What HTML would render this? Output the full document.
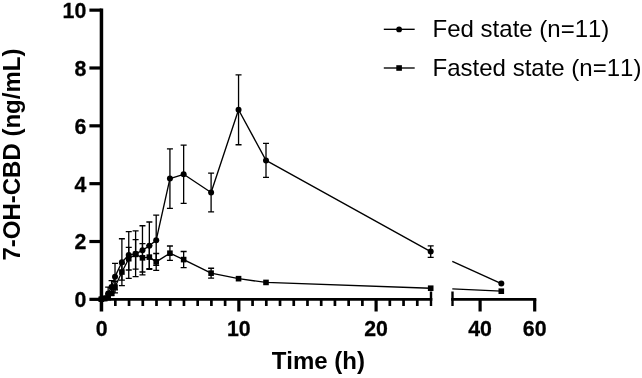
<!DOCTYPE html>
<html><head><meta charset="utf-8"><title>7-OH-CBD</title>
<style>
html,body{margin:0;padding:0;background:#fff;}
svg{display:block;filter:blur(0.3px);}
text{font-family:"Liberation Sans",sans-serif;fill:#000;font-kerning:none;}
.tk{font-size:22.8px;font-weight:bold;stroke:#000;stroke-width:0.3px;}
.ti{font-size:24px;font-weight:bold;}
.lg{font-size:24px;}
</style></head>
<body>
<svg width="642" height="378" viewBox="0 0 642 378">
<rect width="642" height="378" fill="#fff"/>
<g id="data">
<path d="M108.16 287.05V299.78M105.16 287.05H111.16M105.16 299.78H111.16" stroke="#000" stroke-width="1.3" fill="none"/>
<path d="M111.59 280.69V293.42M108.59 280.69H114.59M108.59 293.42H114.59" stroke="#000" stroke-width="1.3" fill="none"/>
<path d="M115.02 263.34V289.95M112.02 263.34H118.02M112.02 289.95H118.02" stroke="#000" stroke-width="1.3" fill="none"/>
<path d="M121.89 238.76V285.61M118.89 238.76H124.89M118.89 285.61H124.89" stroke="#000" stroke-width="1.3" fill="none"/>
<path d="M128.75 231.53V278.38M125.75 231.53H131.75M125.75 278.38H131.75" stroke="#000" stroke-width="1.3" fill="none"/>
<path d="M135.61 230.95V276.64M132.61 230.95H138.61M132.61 276.64H138.61" stroke="#000" stroke-width="1.3" fill="none"/>
<path d="M142.47 225.74V274.91M139.47 225.74H145.47M139.47 274.91H145.47" stroke="#000" stroke-width="1.3" fill="none"/>
<path d="M149.34 221.98V269.41M146.34 221.98H152.34M146.34 269.41H152.34" stroke="#000" stroke-width="1.3" fill="none"/>
<path d="M156.2 215.04V265.36M153.2 215.04H159.2M153.2 265.36H159.2" stroke="#000" stroke-width="1.3" fill="none"/>
<path d="M169.93 148.82V208.39M166.93 148.82H172.93M166.93 208.39H172.93" stroke="#000" stroke-width="1.3" fill="none"/>
<path d="M183.65 145.06V203.47M180.65 145.06H186.65M180.65 203.47H186.65" stroke="#000" stroke-width="1.3" fill="none"/>
<path d="M211.1 173.11V211.86M208.1 173.11H214.1M208.1 211.86H214.1" stroke="#000" stroke-width="1.3" fill="none"/>
<path d="M238.55 74.78V144.77M235.55 74.78H241.55M235.55 144.77H241.55" stroke="#000" stroke-width="1.3" fill="none"/>
<path d="M266 143.32V177.45M263 143.32H269M263 177.45H269" stroke="#000" stroke-width="1.3" fill="none"/>
<path d="M430.7 245.81V257.38M427.7 245.81H433.7M427.7 257.38H433.7" stroke="#000" stroke-width="1.3" fill="none"/>
<polyline points="101.3,299.2 104.73,298.33 108.16,293.42 111.59,287.05 115.02,276.64 121.89,262.18 128.75,254.95 135.61,253.8 142.47,250.33 149.34,245.7 156.2,240.2 169.93,178.6 183.65,174.27 211.1,192.49 238.55,109.77 266,160.38 430.7,251.6" fill="none" stroke="#000" stroke-width="1.35" stroke-linejoin="round"/>
<circle cx="101.3" cy="299.2" r="3.0"/>
<circle cx="104.73" cy="298.33" r="3.0"/>
<circle cx="108.16" cy="293.42" r="3.0"/>
<circle cx="111.59" cy="287.05" r="3.0"/>
<circle cx="115.02" cy="276.64" r="3.0"/>
<circle cx="121.89" cy="262.18" r="3.0"/>
<circle cx="128.75" cy="254.95" r="3.0"/>
<circle cx="135.61" cy="253.8" r="3.0"/>
<circle cx="142.47" cy="250.33" r="3.0"/>
<circle cx="149.34" cy="245.7" r="3.0"/>
<circle cx="156.2" cy="240.2" r="3.0"/>
<circle cx="169.93" cy="178.6" r="3.0"/>
<circle cx="183.65" cy="174.27" r="3.0"/>
<circle cx="211.1" cy="192.49" r="3.0"/>
<circle cx="238.55" cy="109.77" r="3.0"/>
<circle cx="266" cy="160.38" r="3.0"/>
<circle cx="430.7" cy="251.6" r="3.0"/>
<path d="M111.59 291.68V295.15M108.59 291.68H114.59M108.59 295.15H114.59" stroke="#000" stroke-width="1.3" fill="none"/>
<path d="M115.02 281.27V292.84M112.02 281.27H118.02M112.02 292.84H118.02" stroke="#000" stroke-width="1.3" fill="none"/>
<path d="M121.89 263.92V280.11M118.89 263.92H124.89M118.89 280.11H124.89" stroke="#000" stroke-width="1.3" fill="none"/>
<path d="M128.75 247.43V269.99M125.75 247.43H131.75M125.75 269.99H131.75" stroke="#000" stroke-width="1.3" fill="none"/>
<path d="M135.61 239.62V269.12M132.61 239.62H138.61M132.61 269.12H138.61" stroke="#000" stroke-width="1.3" fill="none"/>
<path d="M142.47 243.67V272.02M139.47 243.67H145.47M139.47 272.02H145.47" stroke="#000" stroke-width="1.3" fill="none"/>
<path d="M149.34 245.55V268.69M146.34 245.55H152.34M146.34 268.69H152.34" stroke="#000" stroke-width="1.3" fill="none"/>
<path d="M156.2 253.51V270.28M153.2 253.51H159.2M153.2 270.28H159.2" stroke="#000" stroke-width="1.3" fill="none"/>
<path d="M169.93 245.99V260.45M166.93 245.99H172.93M166.93 260.45H172.93" stroke="#000" stroke-width="1.3" fill="none"/>
<path d="M183.65 251.48V267.68M180.65 251.48H186.65M180.65 267.68H186.65" stroke="#000" stroke-width="1.3" fill="none"/>
<path d="M211.1 268.26V278.09M208.1 268.26H214.1M208.1 278.09H214.1" stroke="#000" stroke-width="1.3" fill="none"/>
<polyline points="101.3,299.2 104.73,298.62 108.16,295.73 111.59,293.42 115.02,287.05 121.89,272.02 128.75,258.71 135.61,254.37 142.47,257.84 149.34,257.12 156.2,261.89 169.93,253.22 183.65,259.58 211.1,273.17 238.55,278.67 266,282.43 430.7,288.21" fill="none" stroke="#000" stroke-width="1.35" stroke-linejoin="round"/>
<rect x="98.5" y="296.4" width="5.6" height="5.6"/>
<rect x="101.93" y="295.82" width="5.6" height="5.6"/>
<rect x="105.36" y="292.93" width="5.6" height="5.6"/>
<rect x="108.79" y="290.62" width="5.6" height="5.6"/>
<rect x="112.22" y="284.25" width="5.6" height="5.6"/>
<rect x="119.09" y="269.22" width="5.6" height="5.6"/>
<rect x="125.95" y="255.91" width="5.6" height="5.6"/>
<rect x="132.81" y="251.57" width="5.6" height="5.6"/>
<rect x="139.67" y="255.04" width="5.6" height="5.6"/>
<rect x="146.54" y="254.32" width="5.6" height="5.6"/>
<rect x="153.4" y="259.09" width="5.6" height="5.6"/>
<rect x="167.12" y="250.42" width="5.6" height="5.6"/>
<rect x="180.85" y="256.78" width="5.6" height="5.6"/>
<rect x="208.3" y="270.37" width="5.6" height="5.6"/>
<rect x="235.75" y="275.87" width="5.6" height="5.6"/>
<rect x="263.2" y="279.63" width="5.6" height="5.6"/>
<rect x="427.9" y="285.41" width="5.6" height="5.6"/>
<path d="M452.3 261.4L501.3 283.6" stroke="#000" stroke-width="1.35" fill="none"/>
<circle cx="501.3" cy="283.6" r="3.0"/>
<path d="M452.3 288.8L501.3 291.2" stroke="#000" stroke-width="1.35" fill="none"/>
<rect x="498.5" y="288.4" width="5.6" height="5.6"/>
</g>
<g id="axes">
<path d="M101.45 8.4V311.5" stroke="#000" stroke-width="3.5"/>
<path d="M89.4 299.35H101.45" stroke="#000" stroke-width="3.2"/>
<path d="M89.4 241.51H101.45" stroke="#000" stroke-width="3.2"/>
<path d="M89.4 183.67H101.45" stroke="#000" stroke-width="3.2"/>
<path d="M89.4 125.83H101.45" stroke="#000" stroke-width="3.2"/>
<path d="M89.4 67.99H101.45" stroke="#000" stroke-width="3.2"/>
<path d="M89.4 10.15H101.45" stroke="#000" stroke-width="3.2"/>
<path d="M101.45 299.35H432.35" stroke="#000" stroke-width="2.85"/>
<path d="M115.32 299.35V306" stroke="#000" stroke-width="2.7"/>
<path d="M129.05 299.35V306" stroke="#000" stroke-width="2.7"/>
<path d="M142.78 299.35V306" stroke="#000" stroke-width="2.7"/>
<path d="M156.5 299.35V306" stroke="#000" stroke-width="2.7"/>
<path d="M170.23 299.35V306" stroke="#000" stroke-width="2.7"/>
<path d="M183.95 299.35V306" stroke="#000" stroke-width="2.7"/>
<path d="M197.68 299.35V306" stroke="#000" stroke-width="2.7"/>
<path d="M211.4 299.35V306" stroke="#000" stroke-width="2.7"/>
<path d="M225.12 299.35V306" stroke="#000" stroke-width="2.7"/>
<path d="M238.85 299.35V311.5" stroke="#000" stroke-width="3.2"/>
<path d="M252.57 299.35V306" stroke="#000" stroke-width="2.7"/>
<path d="M266.3 299.35V306" stroke="#000" stroke-width="2.7"/>
<path d="M280.02 299.35V306" stroke="#000" stroke-width="2.7"/>
<path d="M293.75 299.35V306" stroke="#000" stroke-width="2.7"/>
<path d="M307.48 299.35V306" stroke="#000" stroke-width="2.7"/>
<path d="M321.2 299.35V306" stroke="#000" stroke-width="2.7"/>
<path d="M334.93 299.35V306" stroke="#000" stroke-width="2.7"/>
<path d="M348.65 299.35V306" stroke="#000" stroke-width="2.7"/>
<path d="M362.38 299.35V306" stroke="#000" stroke-width="2.7"/>
<path d="M376.1 299.35V311.5" stroke="#000" stroke-width="3.2"/>
<path d="M389.82 299.35V306" stroke="#000" stroke-width="2.7"/>
<path d="M403.55 299.35V306" stroke="#000" stroke-width="2.7"/>
<path d="M417.28 299.35V306" stroke="#000" stroke-width="2.7"/>
<path d="M431 291.5V306" stroke="#000" stroke-width="2.4"/>
<path d="M451.15 299.35H536.3" stroke="#000" stroke-width="2.85"/>
<path d="M452.5 291.5V306" stroke="#000" stroke-width="2.4"/>
<path d="M480.1 299.35V311.5" stroke="#000" stroke-width="3.2"/>
<path d="M534.7 299.35V311.5" stroke="#000" stroke-width="3.2"/>
</g>
<g id="labels">
<text transform="translate(86.3 307.2) scale(0.935 1)" text-anchor="end" class="tk">0</text>
<text transform="translate(86.3 249.36) scale(0.935 1)" text-anchor="end" class="tk">2</text>
<text transform="translate(86.3 191.52) scale(0.935 1)" text-anchor="end" class="tk">4</text>
<text transform="translate(86.3 133.68) scale(0.935 1)" text-anchor="end" class="tk">6</text>
<text transform="translate(86.3 75.84) scale(0.935 1)" text-anchor="end" class="tk">8</text>
<text transform="translate(86.3 18) scale(0.935 1)" text-anchor="end" class="tk">10</text>
<text transform="translate(101.6 335.9) scale(0.935 1)" text-anchor="middle" class="tk">0</text>
<text transform="translate(238.85 335.9) scale(0.935 1)" text-anchor="middle" class="tk">10</text>
<text transform="translate(376.1 335.9) scale(0.935 1)" text-anchor="middle" class="tk">20</text>
<text transform="translate(480.1 335.9) scale(0.935 1)" text-anchor="middle" class="tk">40</text>
<text transform="translate(534.7 335.9) scale(0.935 1)" text-anchor="middle" class="tk">60</text>
<text x="318.3" y="369.3" text-anchor="middle" class="ti">Time (h)</text>
<text transform="translate(20.3 154.6) rotate(-90)" text-anchor="middle" class="ti">7-OH-CBD (ng/mL)</text>
<path d="M383.8 29.3H414.7" stroke="#000" stroke-width="1.35"/><circle cx="399.1" cy="29.4" r="2.9"/>
<path d="M383.8 68H414.7" stroke="#000" stroke-width="1.35"/><rect x="396.3" y="65.2" width="5.6" height="5.6"/>
<text x="432.6" y="37.1" class="lg">Fed state (n=11)</text>
<text x="432.6" y="75.6" class="lg">Fasted state (n=11)</text>
</g>
</svg>
</body></html>
